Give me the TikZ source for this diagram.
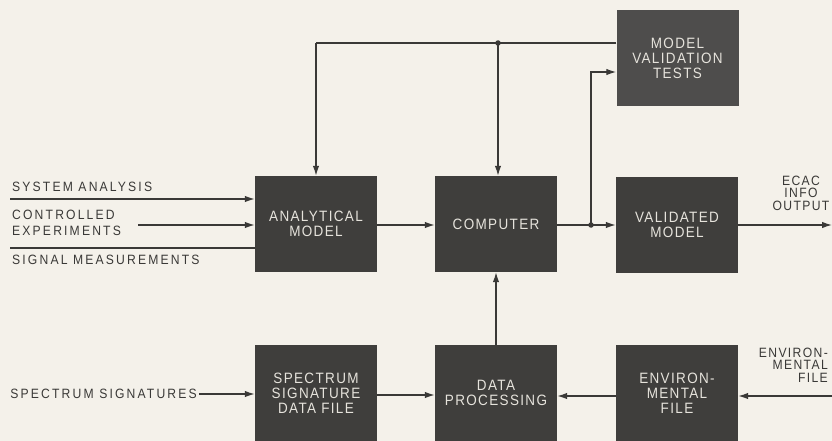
\documentclass[tikz,border=0pt]{standalone}
\usepackage{fontspec}
\setmainfont{Liberation Sans}
\newfontfamily\lblfont{Liberation Sans}[FakeStretch=0.9, LetterSpace=16]
\newfontfamily\rlblfont{Liberation Sans}[FakeStretch=0.9, LetterSpace=10]
\newfontfamily\boxfont{Liberation Sans}[FakeStretch=0.9, LetterSpace=9]
\usetikzlibrary{arrows.meta}
\definecolor{paper}{HTML}{F4F1EA}
\definecolor{boxfill}{HTML}{3F3E3C}
\definecolor{ink}{HTML}{3A3937}
\definecolor{boxtext}{HTML}{E6E3DC}
\tikzset{
  blk/.style={draw=none, fill=boxfill, minimum width=122pt, minimum height=96pt, inner sep=0pt,
    text=boxtext, align=center, font=\boxfont\fontsize{15}{15}\selectfont},
  lbl/.style={text=ink, inner sep=0pt, font=\lblfont\fontsize{13.5}{16}\selectfont},
  rlbl/.style={text=ink, inner sep=0pt, font=\rlblfont\fontsize{13.5}{12.5}\selectfont},
  wire/.style={draw=ink, line width=1.3pt},
  arr/.style={wire, -{Latex[length=10pt,width=6.5pt]}},
  dot/.style={circle, fill=ink, inner sep=0pt, minimum size=5.5pt}
}
\begin{document}
\begin{tikzpicture}[x=1pt,y=-1pt]
\fill[paper] (0,0) rectangle (832,441);
\useasboundingbox (0,0) rectangle (832,441);
% boxes
\node[blk] (ana) at (316,224) {ANALYTICAL\\MODEL};
\node[blk] (comp) at (496,224) {COMPUTER};
\node[blk] (val) at (677,225) {VALIDATED\\MODEL};
\node[blk, fill=boxfill!92!white] (mvt) at (677.5,58) {MODEL\\VALIDATION\\TESTS};
\node[blk] (spec) at (316,393) {SPECTRUM\\SIGNATURE\\DATA FILE};
\node[blk] (dp) at (496,393) {DATA\\PROCESSING};
\node[blk] (env) at (677,393) {ENVIRON-\\MENTAL\\FILE};
% left labels
\node[lbl, anchor=west] (tsa) at (12,187) {SYSTEM ANALYSIS};
\node[lbl, anchor=west, align=left] (tce) at (12,223) {CONTROLLED\\EXPERIMENTS};
\node[lbl, anchor=west] (tsm) at (12,260) {SIGNAL MEASUREMENTS};
\node[lbl, anchor=east] (tss) at (197,394) {SPECTRUM SIGNATURES};
\node[rlbl, align=center] (tecac) at (801,193) {ECAC\\INFO\\OUTPUT};
\node[rlbl, align=right, anchor=east] (tenv) at (828,365) {ENVIRON-\\MENTAL\\FILE};
% coordinates
\coordinate (sa) at (10,199);
\coordinate (ce) at (138,225);
\coordinate (sm) at (10,248);
\coordinate (ss) at (199,394);
\coordinate (jr) at (591,225);
\coordinate (jt) at (498,43);
\coordinate (tl) at (316,43);
\coordinate (ecac) at (832,225);
\coordinate (envin) at (832,396);
% input wires
\draw[arr] (sa) -- (ana.west |- sa);
\draw[arr] (ce) -- (ana.west |- ce);
\draw[wire] (sm) -- (ana.west |- sm);
\draw[arr] (ss) -- (spec.west |- ss);
% main flow
\draw[arr] (ana.east |- 0,225) -- (comp.west |- 0,225);
\draw[wire] (comp.east |- jr) -- (jr);
\draw[arr] (jr) -- (val.west |- jr);
\draw[arr] (jr) |- (mvt.west |- 0,72);
\draw[arr] (val.east |- ecac) -- (ecac);
\draw[wire] (mvt.west |- jt) -- (jt) -- (tl);
\draw[arr] (tl) -- (ana.north);
\draw[arr] (jt) -- (jt |- comp.north);
\draw[arr] (spec.east |- 0,395) -- (dp.west |- 0,395);
\draw[arr] (env.west |- 0,396) -- (dp.east |- 0,396);
\draw[arr] (envin) -- (env.east |- envin);
\draw[arr] (dp.north) -- (comp.south);
\node[dot] at (jr) {};
\node[dot] at (jt) {};
\end{tikzpicture}
\end{document}
